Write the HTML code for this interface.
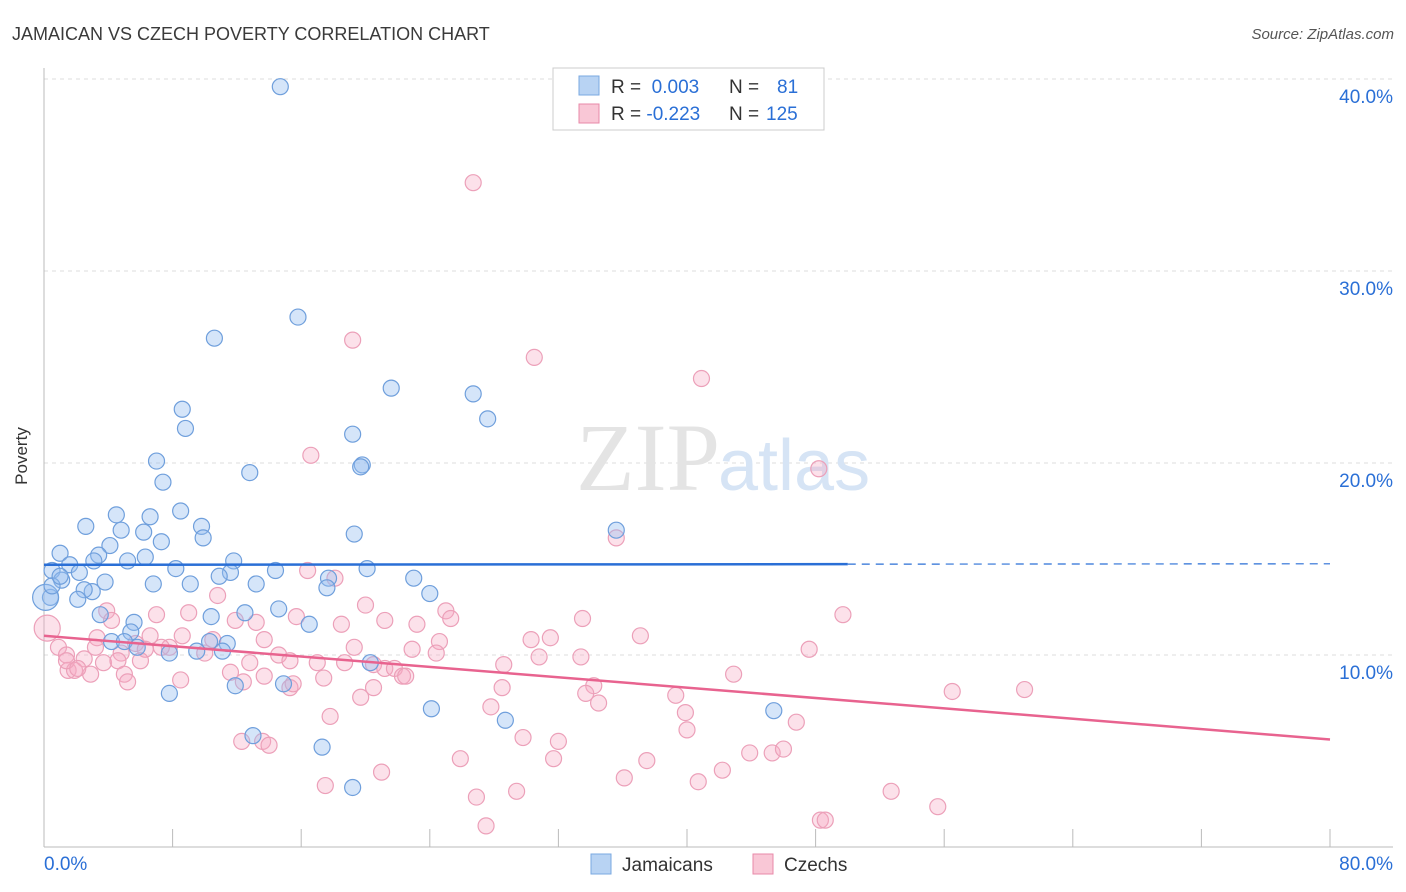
<!DOCTYPE html>
<html><head><meta charset="utf-8">
<style>
body{margin:0;background:#fff;font-family:"Liberation Sans",sans-serif;}
svg{display:block}
</style></head>
<body>
<svg width="1406" height="892" xmlns="http://www.w3.org/2000/svg">
<text x="12" y="40" font-size="18" fill="#3a3a3a">JAMAICAN VS CZECH POVERTY CORRELATION CHART</text>
<text x="1394" y="39" font-size="15" fill="#555" text-anchor="end" font-style="italic">Source: ZipAtlas.com</text>
<g id="grid"></g>
<text x="720" y="490" font-size="96" fill="#e4e4e4" text-anchor="end" font-family="Liberation Serif">ZIP</text>
<text x="718" y="490" font-size="72" fill="#d6e4f5">atlas</text>
<g id="points"></g>
<g id="lines"></g>
<text x="27" y="456" font-size="17" fill="#333" text-anchor="middle" transform="rotate(-90 27 456)">Poverty</text>
<g>
<rect x="553" y="68" width="271" height="62" fill="#fff" stroke="#ccc"/>
<rect x="579" y="76" width="20" height="19" fill="#b8d3f3" stroke="#7aa8e0"/>
<rect x="579" y="104" width="20" height="19" fill="#f9c7d6" stroke="#e88aa8"/>
<text x="611" y="93" font-size="19" fill="#333">R = <tspan fill="#2a6fd6">&#160;0.003</tspan><tspan x="729">N = </tspan><tspan x="777" fill="#2a6fd6">81</tspan></text>
<text x="611" y="120" font-size="19" fill="#333">R = <tspan fill="#2a6fd6">-0.223</tspan><tspan x="729">N = </tspan><tspan x="766" fill="#2a6fd6">125</tspan></text>
</g>
<g>
<rect x="591" y="854" width="20" height="20" fill="#b8d3f3" stroke="#7aa8e0"/>
<text x="622" y="871" font-size="19" fill="#333">Jamaicans</text>
<rect x="753" y="854" width="20" height="20" fill="#f9c7d6" stroke="#e88aa8"/>
<text x="784" y="871" font-size="19" fill="#333">Czechs</text>
</g>
</svg>
<script>
const xTicks=[0,8,16,24,32,40,48,56,64,72,80];
const yTicks=[10,20,30,40];
const yTickLabels=["10.0%","20.0%","30.0%","40.0%"];
const xLabels=["0.0%","80.0%"];
const jamX=[14.7,15.8,10.6,21.6,26.7,27.6,8.6,8.8,19.2,7.0,19.8,19.7,12.8,7.4,8.5,6.6,4.5,2.6,4.8,6.2,9.8,9.9,19.3,35.6,4.1,1.0,3.4,5.2,6.3,1.6,3.1,7.3,11.8,0.5,2.2,8.2,11.6,14.4,10.9,20.1,23.0,17.7,1.1,3.8,6.8,9.1,13.2,3.0,2.5,17.6,24.0,0.4,0.1,2.1,14.6,16.5,3.5,10.4,12.5,5.6,5.4,4.2,5.0,10.3,11.4,5.8,7.8,9.5,11.1,20.3,11.9,14.9,7.8,24.1,28.7,45.4,13.0,17.3,19.2,0.5,1.0];
const jamY=[39.6,27.6,26.5,23.9,23.6,22.3,22.8,21.8,21.5,20.1,19.9,19.8,19.5,19.0,17.5,17.2,17.3,16.7,16.5,16.4,16.7,16.1,16.3,16.5,15.7,15.3,15.2,14.9,15.1,14.7,14.9,15.9,14.9,14.4,14.3,14.5,14.3,14.4,14.1,14.5,14.0,14.0,13.9,13.8,13.7,13.7,13.7,13.3,13.4,13.5,13.2,13.0,13.0,12.9,12.4,11.6,12.1,12.0,12.2,11.7,11.2,10.7,10.7,10.7,10.6,10.4,10.1,10.2,10.2,9.6,8.4,8.5,8.0,7.2,6.6,7.1,5.8,5.2,3.1,13.6,14.1];
const czX=[26.7,19.2,30.5,40.9,16.6,48.2,35.6,16.4,18.1,20.0,3.9,7.0,10.8,9.0,11.9,13.2,15.7,18.5,21.2,25.0,25.3,23.2,33.5,49.7,37.1,30.3,31.5,4.2,8.6,6.6,3.3,5.7,6.3,7.8,24.6,22.9,24.4,3.2,0.9,1.4,2.5,4.8,7.3,10.0,10.5,13.7,19.3,47.6,30.8,33.4,14.6,17.0,18.7,12.8,3.7,4.6,6.0,15.3,20.5,21.2,21.8,22.3,22.5,28.6,1.5,1.9,2.9,5.0,5.2,8.5,11.6,12.4,13.7,15.3,17.4,20.5,28.5,34.2,33.7,42.9,39.3,56.5,61.0,34.5,27.8,39.9,40.0,46.8,19.7,17.8,12.3,13.6,14.0,29.8,32.0,31.7,25.9,37.5,43.9,45.3,46.0,42.2,21.0,17.5,36.1,40.7,29.4,26.9,52.7,55.6,27.5,48.3,48.6,1.4,0.2,2.1,15.5];
const czY=[34.6,26.4,25.5,24.4,20.4,19.7,16.1,14.4,14.0,12.6,12.3,12.1,13.1,12.2,11.8,11.7,12.0,11.6,11.8,12.3,11.9,11.6,11.9,12.1,11.0,10.8,10.9,11.8,11.0,11.0,10.9,10.6,10.3,10.4,10.7,10.3,10.1,10.4,10.4,10.0,9.8,10.1,10.4,10.1,10.8,10.8,10.4,10.3,9.9,9.9,10.0,9.6,9.6,9.6,9.6,9.7,9.7,9.7,9.5,9.3,9.3,8.9,8.9,9.5,9.2,9.2,9.0,9.0,8.6,8.7,9.1,8.6,8.9,8.3,8.8,8.3,8.3,8.4,8.0,9.0,7.9,8.1,8.2,7.5,7.3,7.0,6.1,6.5,7.8,6.8,5.5,5.5,5.3,5.7,5.5,4.6,4.6,4.5,4.9,4.9,5.1,4.0,3.9,3.2,3.6,3.4,2.9,2.6,2.9,2.1,1.1,1.4,1.4,9.7,11.4,9.3,8.5];
const jamLarge=[52];
const czLarge=[114];
const jamTrend=[14.7,14.75];
const czTrend=[11.0,5.6];
const NS="http://www.w3.org/2000/svg";
const X0=44,X1=1330,Y0=847,Y40=79;
const sx=v=>X0+(v-0)/80*(X1-X0);
const sy=v=>Y0-v/40*(Y0-Y40);
function mk(tag,attrs,parent){const e=document.createElementNS(NS,tag);for(const k in attrs)e.setAttribute(k,attrs[k]);parent.appendChild(e);return e;}
const svg=document.querySelector('svg');
const grid=document.getElementById('grid');
yTicks.forEach((t,i)=>{
 const l=mk('line',{x1:X0,x2:1393,y1:sy(t),y2:sy(t),stroke:'#ddd','stroke-dasharray':'4,4'},grid);
 
 
 const tx=mk('text',{x:1393,y:sy(t)+24,'font-size':19,fill:'#2a6fd6','text-anchor':'end'},grid);
 tx.textContent=yTickLabels[i];
 
 
});
const ax=mk('line',{x1:X0,x2:X0,y1:68,y2:Y0,stroke:'#bbb'},grid);


const axx=mk('line',{x1:X0,x2:1393,y1:Y0,y2:Y0,stroke:'#bbb'},grid);


xTicks.forEach(t=>{
 const l=mk('line',{x1:sx(t),x2:sx(t),y1:Y0-18,y2:Y0,stroke:'#bbb'},grid);
 
 
});
const xl0=mk('text',{x:44,y:870,'font-size':19,fill:'#2a6fd6'},grid);xl0.textContent=xLabels[0];


const xl1=mk('text',{x:1393,y:870,'font-size':19,fill:'#2a6fd6','text-anchor':'end'},grid);xl1.textContent=xLabels[1];


const pts=document.getElementById('points');
czX.forEach((x,i)=>{
 const c=mk('circle',{cx:sx(x),cy:sy(czY[i]),r:czLarge.includes(i)?13:8,fill:'rgba(245,170,195,0.35)',stroke:'#eca0b9','stroke-width':1.2},pts);
 
 
});
jamX.forEach((x,i)=>{
 const c=mk('circle',{cx:sx(x),cy:sy(jamY[i]),r:jamLarge.includes(i)?13:8,fill:'rgba(150,190,240,0.4)',stroke:'#6f9fdc','stroke-width':1.2},pts);
 
 
});
const lines=document.getElementById('lines');
const jy=x=>jamTrend[0]+(jamTrend[1]-jamTrend[0])*x/80;
const l1=mk('line',{x1:sx(0),y1:sy(jy(0)),x2:sx(50),y2:sy(jy(50)),stroke:'#2a6fd6','stroke-width':2.5},lines);


const l2=mk('line',{x1:sx(50),y1:sy(jy(50)),x2:sx(80),y2:sy(jy(80)),stroke:'#2a6fd6','stroke-width':1.2,'stroke-dasharray':'8,6'},lines);


const l3=mk('line',{x1:sx(0),y1:sy(czTrend[0]),x2:sx(80),y2:sy(czTrend[1]),stroke:'#e8638f','stroke-width':2.5},lines);


</script>
</body></html>
